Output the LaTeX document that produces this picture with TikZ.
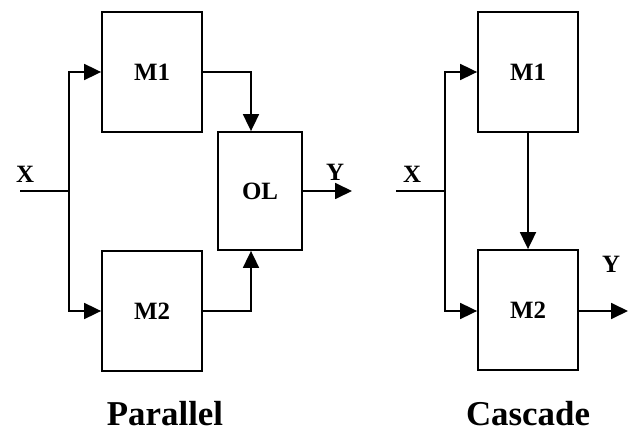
\documentclass[tikz,border=0pt]{standalone}
\usepackage{fontspec}
\setmainfont{Liberation Serif}
\usetikzlibrary{arrows.meta}
\begin{document}
\begin{tikzpicture}[x=1bp, y=-1bp, >={Triangle[length=17bp,width=16bp]}, line width=1.8bp,
  block/.style={draw, inner sep=0pt, minimum width=100bp, minimum height=120bp, font=\bfseries\fontsize{25}{28}\selectfont},
  sig/.style={font=\bfseries\fontsize{25}{28}\selectfont},
  caption/.style={font=\bfseries\fontsize{35}{40}\selectfont}]
 \useasboundingbox (0,0) rectangle (629,433);
 % parallel
 \node[block] (pm1) at (152,72) {M1};
 \node[block] (pm2) at (152,311) {M2};
 \node[block, minimum width=84bp, minimum height=118bp] (ol) at (260,191) {OL};
 \coordinate (px) at (20,191);
 \coordinate (psplit) at (69,191);
 \coordinate (py) at (352,191);
 \node[sig] (pxl) at (25,174) {X};
 \node[sig] (pyl) at (335,172) {Y};
 \draw (px) -- (psplit);
 \draw[->] (psplit) |- (pm1.west);
 \draw[->] (psplit) |- (pm2.west);
 \draw[->] (pm1.east) -| ([xshift=-9bp]ol.north);
 \draw[->] (pm2.east) -| ([xshift=-9bp]ol.south);
 \draw[->] (ol.east) -- (py);
 \node[caption] (ptitle) at (165,414) {Parallel};
 % cascade
 \node[block] (cm1) at (528,72) {M1};
 \node[block] (cm2) at (528,310) {M2};
 \coordinate (cx) at (396,191);
 \coordinate (csplit) at (445,191);
 \coordinate (cy) at (628,311);
 \node[sig] (cxl) at (412,174) {X};
 \node[sig] (cyl) at (611,264) {Y};
 \draw (cx) -- (csplit);
 \draw[->] (csplit) |- (cm1.west);
 \draw[->] (csplit) |- ([yshift=-1bp]cm2.west);
 \draw[->] (cm1) -- (cm2);
 \draw[->] ([yshift=-1bp]cm2.east) -- (cy);
 \node[caption] (ctitle) at (528,414) {Cascade};
\end{tikzpicture}
\end{document}
